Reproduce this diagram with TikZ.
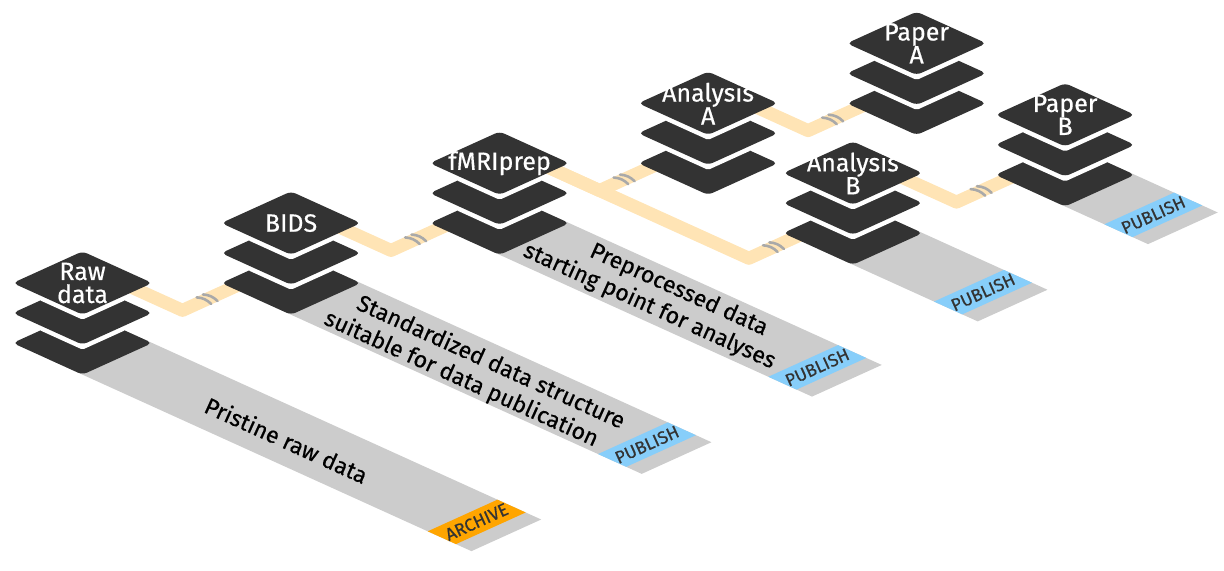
\documentclass[tikz,border=0pt]{standalone}
\usepackage{fontspec}
\setmainfont{Fira Sans}[FakeBold=0.5]
\usetikzlibrary{calc}
\pgfdeclarelayer{linkbg}
\pgfsetlayers{linkbg,main}

\definecolor{platedark}{HTML}{333333}
\definecolor{stripgray}{HTML}{CCCCCC}
\definecolor{publishblue}{HTML}{87CEFA}
\definecolor{archiveorange}{HTML}{FFA500}
\definecolor{linkorange}{HTML}{FFE4B5}
\definecolor{hatchgray}{HTML}{A9A9A9}

% plate geometry, in units along the two isometric axes
\newcommand{\platedrop}{36.3}
\newcommand{\platehalf}{38.3}
\newcommand{\bandstart}{490}
\newcommand{\bandend}{521}
\newcommand{\stripend}{538}

% one plate, centred at (#1,#2)
\newcommand{\plate}[2]{\fill[plate] (#1-\platehalf,#2-\platehalf) -- (#1+\platehalf,#2-\platehalf) -- (#1+\platehalf,#2+\platehalf) -- (#1-\platehalf,#2+\platehalf) -- cycle;}
% white gap along the lower edges of the plate at (#1,#2)
\newcommand{\platehalo}[2]{\draw[halo] (#1+\platedrop-\platehalf-3,#2-\platehalf) -- (#1+\platehalf,#2-\platehalf) -- (#1+\platehalf,#2+\platehalf-\platedrop+3);}

% three plates and the label on top
\newcommand{\datastack}[4]{%
	\begin{scope}[shift={(#2,#3)}]
		\plate{2*\platedrop}{-2*\platedrop}
		\platehalo{\platedrop}{-\platedrop}
		\plate{\platedrop}{-\platedrop}
		\platehalo{0}{0}
		\plate{0}{0}
		\node[stacklabel] (#1) at (0,0) {#4};
	\end{scope}}

% grey strip below a stack, with its coloured band
\newcommand{\datastrip}[5]{%
	\fill[strip] (#2+2*\platedrop,#3-2*\platedrop-\platehalf) -- (\stripend,#3-2*\platedrop-\platehalf) -- (\stripend,#3-2*\platedrop+\platehalf) -- (#2+2*\platedrop,#3-2*\platedrop+\platehalf) -- cycle;
	\fill[#4] (\bandstart,#3-2*\platedrop-\platehalf) -- (\bandend,#3-2*\platedrop-\platehalf) -- (\bandend,#3-2*\platedrop+\platehalf) -- (\bandstart,#3-2*\platedrop+\platehalf) -- cycle;
	\node[bandtext] (#1) at ({(\bandstart+\bandend)/2},#3-2*\platedrop) {#5};}

\begin{document}
\begin{tikzpicture}[x={(0.4553pt,-0.2066pt)}, y={(0.4553pt,0.2066pt)},
	plate/.style={fill=platedark, rounded corners=2.5pt},
	halo/.style={draw=white, line width=4.5pt, line cap=round, line join=round},
	strip/.style={fill=stripgray},
	publish/.style={fill=publishblue},
	archive/.style={fill=archiveorange},
	link/.style={draw=linkorange, line width=6.5pt, line join=round},
	hatch/.style={draw=hatchgray, line width=1.3pt, line cap=round},
	stacklabel/.style={text=white, align=center, inner sep=0pt, font=\fontsize{12.5pt}{11.5pt}\selectfont},
	striplabel/.style={rotate=-24.4, align=center, inner sep=0pt, font=\fontsize{11.5pt}{13.5pt}\selectfont},
	bandtext/.style={rotate=24.4, text=platedark, inner sep=0pt, font=\fontsize{8.8pt}{9pt}\selectfont}]

	\useasboundingbox (-41.25pt,141.5pt) rectangle (570.75pt,-143.5pt);

	% strips first, so the plates cover their start
	\datastrip{raw-tag}{0}{0}{archive}{ARCHIVE}
	\datastrip{bids-tag}{42}{187}{publish}{PUBLISH}
	\datastrip{fmri-tag}{84}{374}{publish}{PUBLISH}
	\datastrip{anab-tag}{290}{556}{publish}{PUBLISH}
	\datastrip{papb-tag}{336}{743}{publish}{PUBLISH}

	\node[striplabel] (raw-note) at (302,-78) {Pristine raw data};
	\node[striplabel] (bids-note) at (322.6,109.4) {\hspace*{10pt}Standardized data structure\\suitable for data publication\hspace*{10pt}};
	\node[striplabel] (fmri-note) at (338,300.6) {\hspace*{10pt}Preprocessed data\\starting point for analyses\hspace*{10pt}};

	\datastack{raw}{0}{0}{Raw\\data}
	\datastack{bids}{42}{187}{BIDS}
	\datastack{fmri}{84}{374}{fMRIprep}
	\datastack{anaa}{126}{561}{Analysis\\A}
	\datastack{anab}{290}{556}{Analysis\\B}
	\datastack{papa}{168}{748}{Paper\\A}
	\datastack{papb}{336}{743}{Paper\\B}

	% links run below all plates
	\begin{pgfonlayer}{linkbg}
		\draw[link] ($(raw)+(-21.8,21.8)$) -- ++(109.8,0) coordinate (k1) -- ($(bids)+(46,-46)$);
		\draw[link] ($(bids)+(-21.8,21.8)$) -- ++(109.8,0) coordinate (k2) -- ($(fmri)+(46,-46)$);
		\draw[link] ($(fmri)+(-21.8,21.8)$) -- ++(109.8,0) coordinate (k3) -- ($(anaa)+(46,-46)$);
		\draw[link] ($(fmri)+(-21.8,21.8)$) -- ++(273.8,0) coordinate (k4) -- ($(anab)+(46,-46)$);
		\draw[link] ($(anaa)+(-21.8,21.8)$) -- ++(109.8,0) coordinate (k5) -- ($(papa)+(46,-46)$);
		\draw[link] ($(anab)+(-21.8,21.8)$) -- ++(113.8,0) coordinate (k6) -- ($(papb)+(46,-46)$);
		\foreach \k in {k1,k2,k3,k4,k5,k6} {
			\draw[hatch] ($(\k)+(-8,23.5)$) to[bend left=20] ++(16,0);
			\draw[hatch] ($(\k)+(-8,30.5)$) to[bend left=20] ++(16,0);
		}
	\end{pgfonlayer}

\end{tikzpicture}
\end{document}
